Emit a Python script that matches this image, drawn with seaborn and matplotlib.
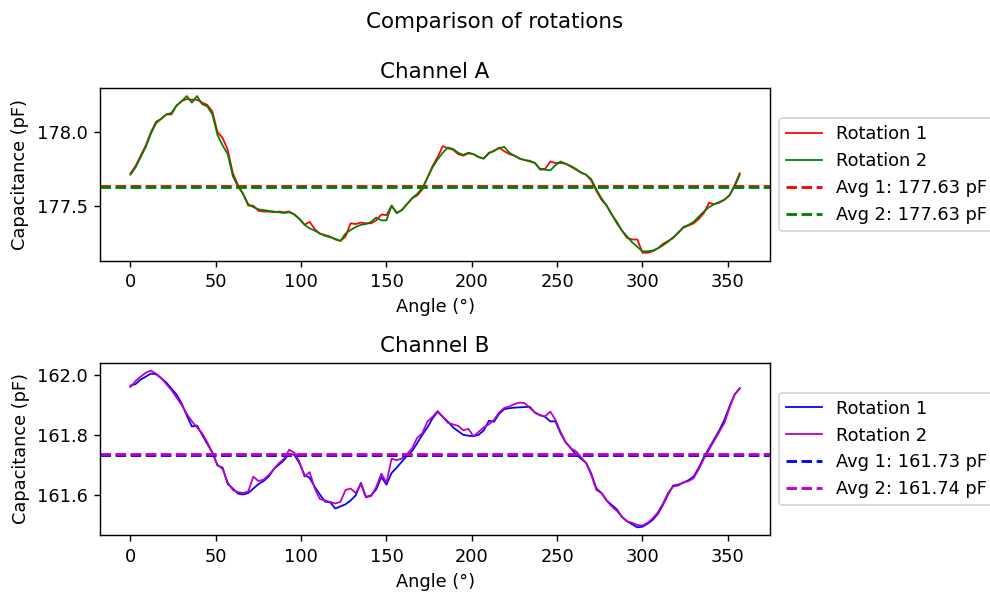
import matplotlib
matplotlib.use("Agg")
import matplotlib.pyplot as plt
import seaborn as sns
import numpy as np

# angles every 3 degrees
angles = np.arange(0, 360, 3)

# Channel A (pF)
chA_rot1 = [177.72, 177.77, 177.84, 177.91, 178.00, 178.07, 178.09, 178.12, 178.12, 178.18,
            178.21, 178.225, 178.22, 178.22, 178.20, 178.185, 178.14, 178.00, 177.96, 177.88,
            177.72, 177.64, 177.58, 177.50, 177.50, 177.465, 177.46, 177.46, 177.455, 177.46,
            177.455, 177.46, 177.44, 177.41, 177.37, 177.39, 177.34, 177.31, 177.30, 177.29,
            177.27, 177.26, 177.29, 177.38, 177.375, 177.385, 177.38, 177.38, 177.40, 177.44,
            177.435, 177.50, 177.45, 177.47, 177.51, 177.55, 177.57, 177.61, 177.69, 177.77,
            177.83, 177.905, 177.89, 177.88, 177.85, 177.84, 177.855, 177.85, 177.83, 177.82,
            177.86, 177.87, 177.895, 177.87, 177.85, 177.84, 177.82, 177.81, 177.80, 177.79,
            177.75, 177.75, 177.80, 177.79, 177.79, 177.785, 177.765, 177.745, 177.725, 177.71,
            177.67, 177.60, 177.54, 177.50, 177.44, 177.38, 177.33, 177.28, 177.27, 177.27,
            177.18, 177.18, 177.19, 177.21, 177.24, 177.26, 177.28, 177.32, 177.35, 177.365,
            177.38, 177.41, 177.45, 177.52, 177.51, 177.52, 177.54, 177.57, 177.64, 177.72]
chA_rot2 = [177.71, 177.76, 177.83, 177.90, 177.99, 178.06, 178.09, 178.12, 178.13, 178.18,
            178.21, 178.245, 178.20, 178.245, 178.19, 178.175, 178.12, 177.98, 177.91, 177.85,
            177.70, 177.63, 177.58, 177.51, 177.49, 177.475, 177.47, 177.465, 177.46, 177.455,
            177.45, 177.455, 177.44, 177.41, 177.37, 177.345, 177.33, 177.31, 177.295, 177.285,
            177.275, 177.26, 177.31, 177.335, 177.355, 177.37, 177.375, 177.39, 177.42, 177.40,
            177.40, 177.50, 177.45, 177.47, 177.51, 177.55, 177.58, 177.62, 177.69, 177.76,
            177.815, 177.86, 177.895, 177.885, 177.86, 177.845, 177.86, 177.85, 177.83, 177.82,
            177.855, 177.875, 177.89, 177.90, 177.86, 177.84, 177.82, 177.81, 177.805, 177.79,
            177.745, 177.745, 177.74, 177.775, 177.80, 177.785, 177.77, 177.75, 177.725, 177.71,
            177.68, 177.61, 177.55, 177.50, 177.44, 177.39, 177.33, 177.29, 177.25, 177.22,
            177.19, 177.19, 177.195, 177.21, 177.23, 177.255, 177.285, 177.315, 177.355, 177.37,
            177.39, 177.425, 177.46, 177.49, 177.51, 177.525, 177.54, 177.57, 177.63, 177.71]
chA_avg = [177.632, 177.628]

# Channel B (pF)
chB_rot1 = [161.965, 161.97, 161.985, 161.995, 162.005, 162.003, 161.99, 161.975, 161.955, 161.935,
            161.905, 161.865, 161.828, 161.831, 161.80, 161.77, 161.74, 161.697, 161.69, 161.635,
            161.62, 161.603, 161.60, 161.605, 161.62, 161.635, 161.645, 161.66, 161.685, 161.70,
            161.715, 161.737, 161.733, 161.705, 161.665, 161.656, 161.625, 161.60, 161.576, 161.574,
            161.553, 161.56, 161.567, 161.58, 161.597, 161.639, 161.592, 161.597, 161.617, 161.659,
            161.633, 161.672, 161.69, 161.71, 161.73, 161.745, 161.772, 161.80, 161.825, 161.855,
            161.877, 161.86, 161.844, 161.825, 161.812, 161.80, 161.797, 161.795, 161.80, 161.815,
            161.847, 161.844, 161.87, 161.886, 161.889, 161.891, 161.892, 161.893, 161.894, 161.874,
            161.866, 161.86, 161.845, 161.845, 161.805, 161.775, 161.755, 161.735, 161.72, 161.706,
            161.67, 161.62, 161.605, 161.58, 161.565, 161.55, 161.525, 161.51, 161.50, 161.49,
            161.492, 161.502, 161.515, 161.535, 161.565, 161.60, 161.63, 161.633, 161.64, 161.648,
            161.66, 161.69, 161.725, 161.755, 161.785, 161.815, 161.85, 161.895, 161.935, 161.956]
chB_rot2 = [161.96, 161.98, 161.995, 162.008, 162.015, 162.005, 161.99, 161.97, 161.95, 161.925,
            161.90, 161.87, 161.845, 161.825, 161.805, 161.775, 161.74, 161.70, 161.685, 161.64,
            161.615, 161.608, 161.605, 161.61, 161.66, 161.645, 161.65, 161.665, 161.685, 161.705,
            161.72, 161.75, 161.74, 161.71, 161.66, 161.675, 161.62, 161.585, 161.58, 161.575,
            161.57, 161.575, 161.615, 161.62, 161.605, 161.635, 161.59, 161.595, 161.625, 161.67,
            161.64, 161.72, 161.715, 161.72, 161.735, 161.755, 161.79, 161.805, 161.845, 161.86,
            161.88, 161.86, 161.84, 161.835, 161.83, 161.815, 161.82, 161.795, 161.81, 161.825,
            161.835, 161.85, 161.875, 161.89, 161.895, 161.903, 161.908, 161.906, 161.89, 161.875,
            161.865, 161.862, 161.878, 161.85, 161.81, 161.775, 161.755, 161.745, 161.725, 161.705,
            161.665, 161.615, 161.605, 161.58, 161.56, 161.545, 161.525, 161.51, 161.505, 161.498,
            161.496, 161.505, 161.52, 161.54, 161.57, 161.605, 161.627, 161.63, 161.64, 161.645,
            161.655, 161.685, 161.72, 161.75, 161.78, 161.81, 161.84, 161.89, 161.935, 161.955]
chB_avg = [161.734, 161.736]

channels = [
    ("Channel A", chA_rot1, chA_rot2, chA_avg, ("r", "g")),
    ("Channel B", chB_rot1, chB_rot2, chB_avg, ("b", "m")),
]

fig, axes = plt.subplots(2, 1, figsize=(990 / 128, 592 / 128), dpi=128)
fig.subplots_adjust(left=0.101, right=0.778, top=0.851, bottom=0.096, hspace=0.593)

for ax, (title, r1, r2, avg, (c1, c2)) in zip(axes, channels):
    sns.lineplot(x=angles, y=r1, ax=ax, color=c1, linewidth=1, label="Rotation 1")
    sns.lineplot(x=angles, y=r2, ax=ax, color=c2, linewidth=1, label="Rotation 2")
    ax.axhline(avg[0], color=c1, linestyle="--", linewidth=1.6, label=f"Avg 1: {avg[0]:.2f} pF")
    ax.axhline(avg[1], color=c2, linestyle="--", linewidth=1.6, label=f"Avg 2: {avg[1]:.2f} pF")
    ax.set_title(title)
    ax.set_xlabel("Angle (°)")
    ax.set_ylabel("Capacitance (pF)")
    ax.legend(loc="center left", bbox_to_anchor=(1, 0.5))

fig.suptitle("Comparison of rotations")
plt.savefig("out.png", dpi=128)
plt.close()
